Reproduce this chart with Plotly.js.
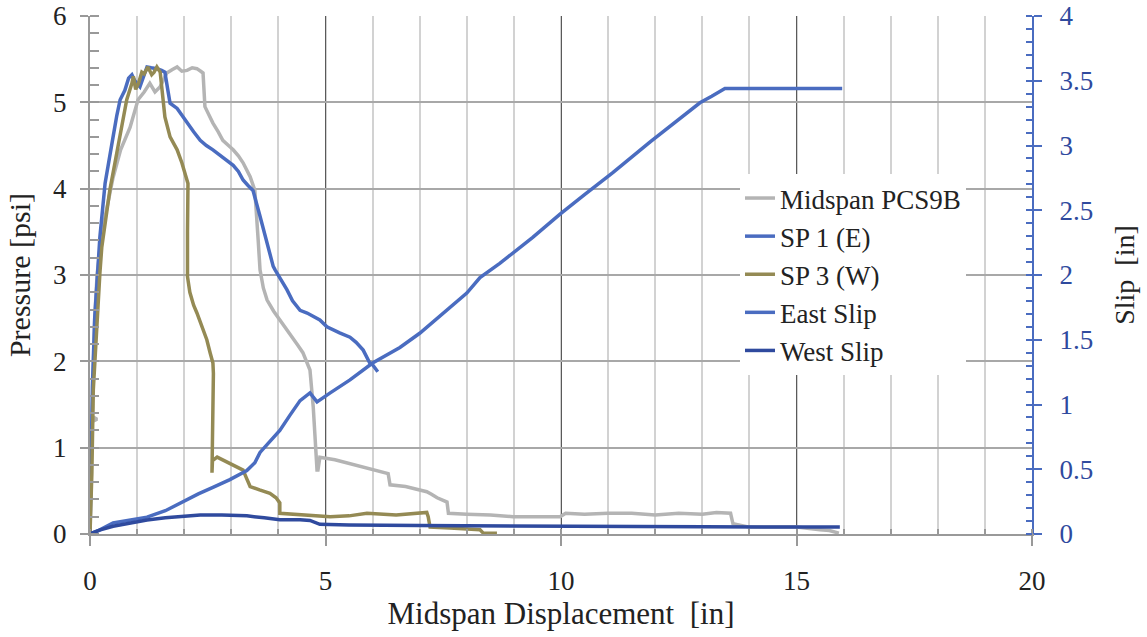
<!DOCTYPE html>
<html>
<head>
<meta charset="utf-8">
<script src="https://cdn.plot.ly/plotly-3.0.1.min.js"></script>
<style>
html,body{margin:0;padding:0;background:#fff;}
#chart{width:1147px;height:637px;}
#chart svg text{font-family:"Liberation Serif","Times New Roman",serif !important;}
</style>
</head>
<body>
<div id="chart"></div>
<script>
// ---- Data ----
const midspanX = [0, 0.02, 0.04, 0.15, 0.05, 0.08, 0.1, 0.15, 0.21, 0.32, 0.42, 0.49, 0.65, 0.85, 1.02, 1.15, 1.27, 1.38, 1.49, 1.63, 1.75, 1.85, 1.95, 2.06, 2.17, 2.27, 2.35, 2.40, 2.44, 2.52, 2.61, 2.72, 2.82, 2.94, 3.04, 3.15, 3.25, 3.40, 3.50, 3.57, 3.61, 3.68, 3.76, 3.9, 4.03, 4.17, 4.31, 4.42, 4.52, 4.60, 4.67, 4.74, 4.82, 4.84, 4.88, 5.2, 5.5, 5.88, 6.2, 6.33, 6.37, 6.7, 7.0, 7.15, 7.25, 7.37, 7.58, 7.61, 8.0, 8.5, 8.98, 9.5, 9.98, 10.1, 10.5, 11.0, 11.5, 12.0, 12.5, 13.0, 13.3, 13.6, 13.65, 14.0, 14.5, 15.0, 15.5, 15.7, 15.9];
const midspanY = [0, 0.5, 1.3, 1.33, 1.36, 2.1, 2.5, 3.0, 3.29, 3.67, 3.95, 4.13, 4.45, 4.71, 5.03, 5.12, 5.22, 5.12, 5.18, 5.34, 5.38, 5.41, 5.36, 5.37, 5.40, 5.39, 5.36, 5.34, 4.95, 4.85, 4.76, 4.66, 4.56, 4.50, 4.45, 4.38, 4.30, 4.14, 3.98, 3.41, 3.06, 2.85, 2.71, 2.58, 2.48, 2.38, 2.28, 2.18, 2.10, 2.0, 1.90, 1.47, 0.74, 0.74, 0.89, 0.86, 0.82, 0.76, 0.72, 0.70, 0.57, 0.55, 0.51, 0.49, 0.46, 0.42, 0.37, 0.24, 0.23, 0.22, 0.2, 0.2, 0.2, 0.24, 0.23, 0.24, 0.24, 0.22, 0.24, 0.23, 0.25, 0.24, 0.12, 0.08, 0.08, 0.08, 0.05, 0.04, 0.01];

const sp1X = [0, 0.02, 0.05, 0.1, 0.15, 0.21, 0.32, 0.42, 0.49, 0.57, 0.64, 0.74, 0.82, 0.89, 0.95, 1.06, 1.13, 1.21, 1.30, 1.42, 1.52, 1.59, 1.65, 1.70, 1.85, 1.95, 2.06, 2.20, 2.34, 2.47, 2.61, 2.80, 3.04, 3.15, 3.25, 3.35, 3.46, 3.60, 3.75, 3.89, 3.93, 4.03, 4.10, 4.18, 4.30, 4.46, 4.61, 4.75, 4.88, 5.03, 5.10, 5.30, 5.52, 5.65, 5.80, 5.94, 6.0, 6.11];
const sp1Y = [0, 0.8, 1.7, 2.5, 3.0, 3.44, 4.06, 4.35, 4.6, 4.85, 5.03, 5.14, 5.28, 5.32, 5.25, 5.18, 5.30, 5.41, 5.40, 5.39, 5.37, 5.35, 5.15, 4.99, 4.93, 4.85, 4.76, 4.66, 4.56, 4.50, 4.45, 4.37, 4.27, 4.20, 4.10, 4.04, 3.98, 3.70, 3.38, 3.10, 3.06, 2.97, 2.90, 2.83, 2.70, 2.59, 2.56, 2.52, 2.48, 2.40, 2.38, 2.33, 2.28, 2.22, 2.13, 1.98, 1.96, 1.88];

const sp3X = [0, 0.02, 0.04, 0.07, 0.14, 0.21, 0.25, 0.32, 0.42, 0.53, 0.64, 0.78, 0.89, 0.92, 0.97, 1.03, 1.10, 1.15, 1.23, 1.31, 1.36, 1.42, 1.49, 1.53, 1.59, 1.70, 1.85, 1.95, 2.06, 2.08, 2.07, 2.07, 2.12, 2.20, 2.27, 2.37, 2.48, 2.55, 2.61, 2.62, 2.61, 2.59, 2.60, 2.70, 2.97, 3.25, 3.32, 3.40, 3.60, 3.82, 3.95, 4.03, 4.03, 4.5, 5.1, 5.5, 5.88, 6.5, 7.15, 7.18, 7.22, 7.64, 8.0, 8.28, 8.35, 8.64];
const sp3Y = [0, 0.3, 0.71, 1.67, 2.44, 3.02, 3.32, 3.6, 3.98, 4.3, 4.64, 5.03, 5.22, 5.30, 5.15, 5.22, 5.35, 5.33, 5.41, 5.32, 5.35, 5.41, 5.35, 5.11, 4.83, 4.60, 4.45, 4.30, 4.07, 4.06, 3.5, 2.98, 2.80, 2.65, 2.56, 2.40, 2.25, 2.10, 1.98, 1.86, 1.3, 0.71, 0.85, 0.89, 0.82, 0.74, 0.65, 0.55, 0.51, 0.47, 0.42, 0.36, 0.24, 0.22, 0.20, 0.21, 0.24, 0.22, 0.25, 0.2, 0.08, 0.07, 0.06, 0.05, 0.01, 0.01];

const eastSlipX = [0, 0.2, 0.49, 0.8, 1.21, 1.6, 1.91, 2.3, 2.61, 2.97, 3.33, 3.5, 3.61, 3.8, 4.03, 4.25, 4.46, 4.67, 4.82, 5.1, 5.52, 6.0, 6.58, 7.0, 7.43, 8.0, 8.28, 8.70, 9.4, 9.98, 10.5, 11.1, 11.9, 12.5, 12.95, 13.2, 13.48, 14.5, 15.97];
const eastSlipY = [0, 0.03, 0.085, 0.105, 0.13, 0.18, 0.24, 0.31, 0.36, 0.42, 0.49, 0.55, 0.63, 0.71, 0.80, 0.92, 1.03, 1.09, 1.02, 1.09, 1.19, 1.32, 1.44, 1.55, 1.68, 1.86, 1.98, 2.09, 2.29, 2.47, 2.62, 2.79, 3.03, 3.20, 3.33, 3.38, 3.44, 3.44, 3.44];

const westSlipX = [0, 0.2, 0.49, 0.8, 1.21, 1.6, 1.91, 2.34, 2.8, 3.33, 3.7, 4.03, 4.46, 4.67, 4.88, 5.5, 7, 9, 11, 13, 15.07, 15.92];
const westSlipY = [0, 0.03, 0.06, 0.08, 0.108, 0.125, 0.135, 0.147, 0.147, 0.14, 0.125, 0.11, 0.11, 0.105, 0.075, 0.07, 0.065, 0.06, 0.058, 0.056, 0.054, 0.054];

const seriesNames = ['Midspan PCS9B', 'SP 1 (E)', 'SP 3 (W)', 'East Slip', 'West Slip'];

// ---- Styles ----
const FONT = '"Liberation Serif", "Times New Roman", serif';
const cGray = '#b4b4b4', cBlue = '#4a6cc0', cOlive = '#948a54', cDark = '#2f4a9e';

const traces = [
  {x: midspanX, y: midspanY, name: seriesNames[0], mode: 'lines', line: {color: cGray, width: 3.5}, yaxis: 'y'},
  {x: sp1X, y: sp1Y, name: seriesNames[1], mode: 'lines', line: {color: cBlue, width: 3.5}, yaxis: 'y'},
  {x: sp3X, y: sp3Y, name: seriesNames[2], mode: 'lines', line: {color: cOlive, width: 3.5}, yaxis: 'y'},
  {x: eastSlipX, y: eastSlipY, name: seriesNames[3], mode: 'lines', line: {color: cBlue, width: 3.5}, yaxis: 'y2'},
  {x: westSlipX, y: westSlipY, name: seriesNames[4], mode: 'lines', line: {color: cDark, width: 3.5}, yaxis: 'y2'}
];

const layout = {
  width: 1147, height: 637,
  margin: {l: 90, r: 115, t: 16, b: 103},
  paper_bgcolor: '#fff', plot_bgcolor: '#fff',
  font: {family: FONT, size: 26, color: '#222'},
  showlegend: true,
  legend: {x: 0.69, y: 0.695, xanchor: 'left', yanchor: 'top', bgcolor: '#fff',
           font: {family: FONT, size: 27, color: '#222'}, tracegroupgap: 0},
  xaxis: {
    range: [0, 20], dtick: 5, tick0: 0,
    showgrid: true, gridcolor: '#5a5a5a', gridwidth: 1,
    zeroline: false, showline: true, linecolor: '#999', linewidth: 2,
    ticks: 'outside', ticklen: 10, tickcolor: '#999', tickwidth: 1.5,
    ticklabelstandoff: 12,
    tickfont: {family: FONT, size: 27, color: '#222'},
    minor: {dtick: 1, showgrid: true, gridcolor: '#d2d2d2', gridwidth: 1.5, ticks: 'inside', ticklen: 5, tickcolor: '#999'},
    title: {text: 'Midspan Displacement\u00a0 [in]', font: {family: FONT, size: 31, color: '#222'}, standoff: 6}
  },
  yaxis: {
    range: [0, 6], dtick: 1, tick0: 0,
    showgrid: true, gridcolor: '#a8a8a8', gridwidth: 1.5,
    zeroline: false, showline: true, linecolor: '#999', linewidth: 2,
    ticks: 'outside', ticklen: 8, tickcolor: '#999', tickwidth: 1.5,
    ticklabelstandoff: 8,
    tickfont: {family: FONT, size: 27, color: '#222'},
    minor: {dtick: 0.2, ticks: 'inside', ticklen: 9, tickcolor: '#999', showgrid: false},
    title: {text: 'Pressure [psi]', font: {family: FONT, size: 30, color: '#222'}, standoff: 14}
  },
  yaxis2: {
    overlaying: 'y', side: 'right', anchor: 'x',
    range: [0, 4], dtick: 0.5, tick0: 0,
    showgrid: false, zeroline: false, showline: true, linecolor: cBlue, linewidth: 2,
    ticks: 'outside', ticklen: 8, tickcolor: cBlue, tickwidth: 1.5,
    ticklabelstandoff: 12,
    tickfont: {family: FONT, size: 27, color: cDark},
    minor: {dtick: 0.1, ticks: 'inside', ticklen: 6, tickcolor: cBlue},
    title: {text: 'Slip\u00a0 [in]', font: {family: FONT, size: 28, color: '#222'}, standoff: 22}
  }
};

Plotly.newPlot('chart', traces, layout, {displayModeBar: false});
</script>
</body>
</html>
